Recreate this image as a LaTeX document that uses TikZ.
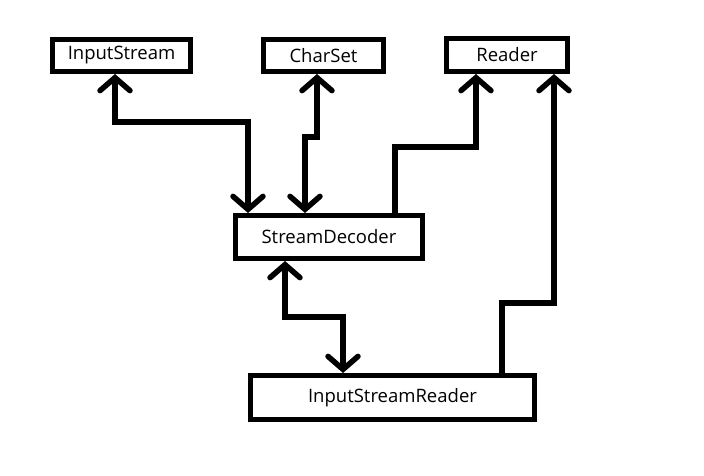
\documentclass[tikz,border=0pt]{standalone}
\usepackage{fontspec}
\setmainfont{Open Sans}
\usetikzlibrary{arrows.meta}
\begin{document}
\begin{tikzpicture}[x=1pt,y=-1pt,
  box/.style={draw=black,line width=5pt,fill=white,inner sep=0pt,font=\fontsize{18.5}{22}\selectfont},
  conn/.style={line width=5.5pt,line cap=round,line join=miter},
  >={Straight Barb[length=13pt,width=30pt,line cap=round]}]
\useasboundingbox (0,0) rectangle (704,475);
\node[box,minimum width=138pt,minimum height=32pt] (IS) at (121.5,55.5) {InputStream};
\node[box,minimum width=120pt,minimum height=32pt] (CS) at (323.5,55.5) {CharSet};
\node[box,minimum width=121pt,minimum height=33pt] (R) at (507,55) {Reader};
\node[box,minimum width=187pt,minimum height=43pt] (SD) at (329,237) {StreamDecoder};
\node[box,minimum width=284pt,minimum height=44pt] (ISR) at (392.5,397.5) {InputStreamReader};
% InputStream <-> StreamDecoder
\coordinate (a1) at (115,122); \coordinate (a2) at (248,122);
\draw[conn,<->] (IS.south -| a1) -- (a1) -- (a2) -- (SD.north -| a2);
% CharSet <-> StreamDecoder
\coordinate (b1) at (317,137); \coordinate (b2) at (305,137);
\draw[conn,<->] (CS.south -| b1) -- (b1) -- (b2) -- (SD.north -| b2);
% StreamDecoder -> Reader
\coordinate (c1) at (395,147); \coordinate (c2) at (476,147);
\draw[conn,->] (SD.north -| c1) -- (c1) -- (c2) -- (R.south -| c2);
% InputStreamReader -> Reader
\coordinate (d1) at (502,303); \coordinate (d2) at (554,303);
\draw[conn,->] (ISR.north -| d1) -- (d1) -- (d2) -- (R.south -| d2);
% StreamDecoder <-> InputStreamReader
\coordinate (e1) at (285,317); \coordinate (e2) at (343,317);
\draw[conn,<->] (SD.south -| e1) -- (e1) -- (e2) -- (ISR.north -| e2);
\end{tikzpicture}
\end{document}
